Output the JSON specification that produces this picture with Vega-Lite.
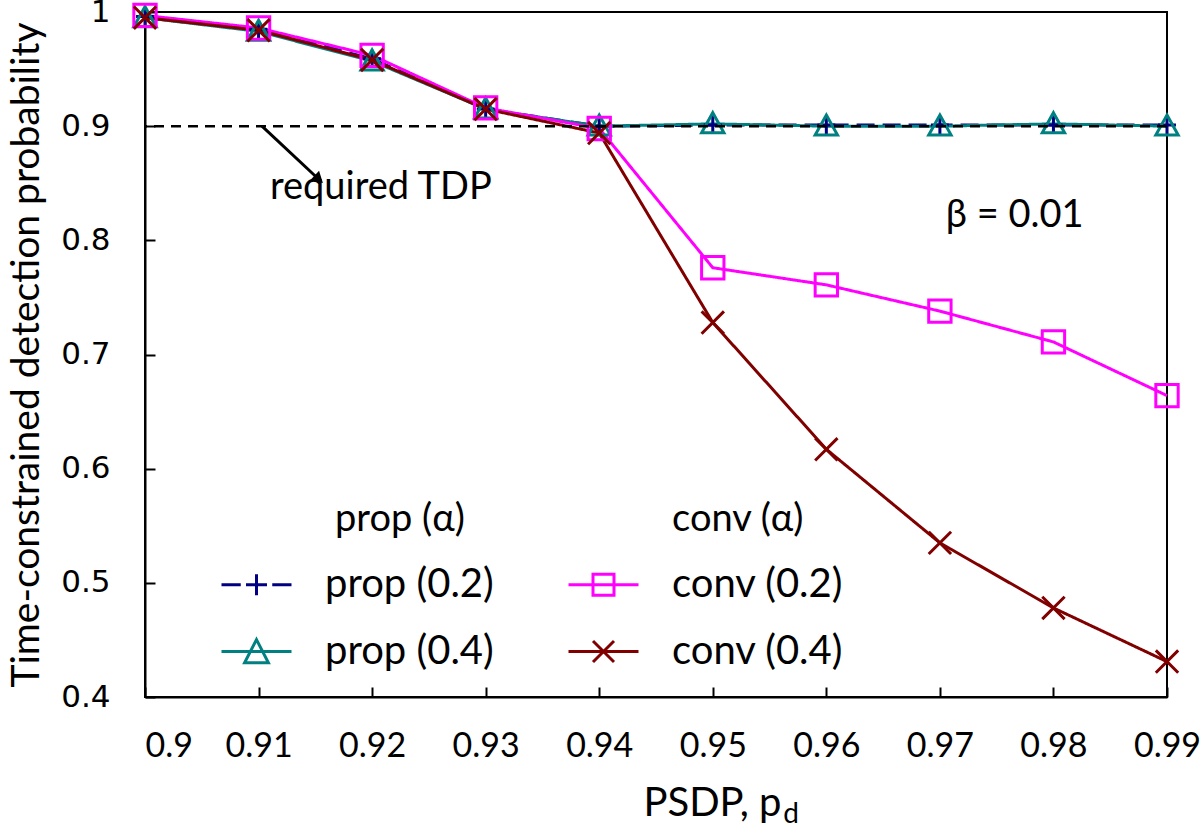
{
  "$schema": "https://vega.github.io/schema/vega-lite/v6.json",
  "autosize": {"type": "none"},
  "width": 1022,
  "height": 685,
  "padding": {"left": 145, "top": 12, "right": 33, "bottom": 143},
  "background": "white",
  "config": {
    "view": {"stroke": "black", "strokeWidth": 2},
    "axis": {"grid": false, "domainColor": "black", "domainWidth": 2, "tickColor": "black", "tickWidth": 2, "tickSize": -10, "labelColor": "black", "titleColor": "black", "titleFontWeight": "normal"}
  },
  "datasets": {
    "curves": [
      {"x": 0.90, "y": 0.996, "series": "prop (0.2)"},
      {"x": 0.91, "y": 0.985, "series": "prop (0.2)"},
      {"x": 0.92, "y": 0.959, "series": "prop (0.2)"},
      {"x": 0.93, "y": 0.915, "series": "prop (0.2)"},
      {"x": 0.94, "y": 0.900, "series": "prop (0.2)"},
      {"x": 0.95, "y": 0.901, "series": "prop (0.2)"},
      {"x": 0.96, "y": 0.901, "series": "prop (0.2)"},
      {"x": 0.97, "y": 0.901, "series": "prop (0.2)"},
      {"x": 0.98, "y": 0.901, "series": "prop (0.2)"},
      {"x": 0.99, "y": 0.901, "series": "prop (0.2)"},
      {"x": 0.90, "y": 0.995, "series": "prop (0.4)"},
      {"x": 0.91, "y": 0.983, "series": "prop (0.4)"},
      {"x": 0.92, "y": 0.957, "series": "prop (0.4)"},
      {"x": 0.93, "y": 0.915, "series": "prop (0.4)"},
      {"x": 0.94, "y": 0.900, "series": "prop (0.4)"},
      {"x": 0.95, "y": 0.902, "series": "prop (0.4)"},
      {"x": 0.96, "y": 0.900, "series": "prop (0.4)"},
      {"x": 0.97, "y": 0.900, "series": "prop (0.4)"},
      {"x": 0.98, "y": 0.902, "series": "prop (0.4)"},
      {"x": 0.99, "y": 0.900, "series": "prop (0.4)"},
      {"x": 0.90, "y": 0.997, "series": "conv (0.2)"},
      {"x": 0.91, "y": 0.986, "series": "conv (0.2)"},
      {"x": 0.92, "y": 0.962, "series": "conv (0.2)"},
      {"x": 0.93, "y": 0.916, "series": "conv (0.2)"},
      {"x": 0.94, "y": 0.898, "series": "conv (0.2)"},
      {"x": 0.95, "y": 0.776, "series": "conv (0.2)"},
      {"x": 0.96, "y": 0.761, "series": "conv (0.2)"},
      {"x": 0.97, "y": 0.738, "series": "conv (0.2)"},
      {"x": 0.98, "y": 0.711, "series": "conv (0.2)"},
      {"x": 0.99, "y": 0.664, "series": "conv (0.2)"},
      {"x": 0.90, "y": 0.995, "series": "conv (0.4)"},
      {"x": 0.91, "y": 0.984, "series": "conv (0.4)"},
      {"x": 0.92, "y": 0.958, "series": "conv (0.4)"},
      {"x": 0.93, "y": 0.915, "series": "conv (0.4)"},
      {"x": 0.94, "y": 0.894, "series": "conv (0.4)"},
      {"x": 0.95, "y": 0.728, "series": "conv (0.4)"},
      {"x": 0.96, "y": 0.617, "series": "conv (0.4)"},
      {"x": 0.97, "y": 0.535, "series": "conv (0.4)"},
      {"x": 0.98, "y": 0.478, "series": "conv (0.4)"},
      {"x": 0.99, "y": 0.431, "series": "conv (0.4)"}
    ],
    "notes": [
      {"label": "required TDP", "px": 0.92077, "py": 0.8457},
      {"label": "β = 0.01", "px": 0.97658, "py": 0.8212},
      {"label": "prop (α)", "px": 0.92245, "py": 0.555},
      {"label": "conv (α)", "px": 0.9522, "py": 0.555}
    ],
    "subscript": [
      {"label": "d", "px": 0.9562, "py": 0.2967}
    ],
    "required": [
      {"level": 0.9}
    ],
    "arrow": [
      {"x1": 0.9103, "y1": 0.9, "x2": 0.9153, "y2": 0.8535}
    ]
  },
  "data": {"name": "curves"},
  "encoding": {
    "x": {"field": "x", "type": "quantitative", "title": "PSDP, p",
      "scale": {"domain": [0.9, 0.99], "nice": false, "zero": false},
      "axis": {"values": [0.9, 0.91, 0.92, 0.93, 0.94, 0.95, 0.96, 0.97, 0.98, 0.99], "format": ".2~f", "labelFont": "Lato", "labelFontSize": 34, "labelPadding": 42, "labelFlush": false,
        "labelAlign": {"condition": {"test": "datum.value < 0.905", "value": "left"}, "value": "center"},
        "title": "PSDP, p", "titleFont": "Lato", "titleFontSize": 40, "titleX": 567, "titleY": 118, "titleBaseline": "alphabetic", "titleAlign": "center"}},
    "y": {"field": "y", "type": "quantitative", "title": "Time-constrained detection probability",
      "scale": {"domain": [0.4, 1], "nice": false, "zero": false},
      "axis": {"values": [0.4, 0.5, 0.6, 0.7, 0.8, 0.9, 1], "format": ".1~f", "labelFont": "DejaVu Sans", "labelFontSize": 31, "labelPadding": 45, "title": "Time-constrained detection probability", "titleFont": "Lato", "titleFontSize": 39, "titlePadding": 14}}
  },
  "layer": [
    {
      "mark": {"type": "line", "strokeWidth": 3},
      "encoding": {
        "color": {"field": "series", "type": "nominal",
          "scale": {"domain": ["prop (0.2)", "prop (0.4)", "conv (0.2)", "conv (0.4)"], "range": ["#000080", "#008080", "#FF00FF", "#800000"]},
          "legend": {"title": null, "orient": "none", "legendX": 75, "legendY": 536, "columns": 2, "columnPadding": 68, "rowPadding": 10, "padding": 0,
            "labelFont": "Lato", "labelFontSize": 40, "labelColor": "black", "labelOffset": 32, "labelLimit": 400,
            "symbolSize": 4900, "symbolStrokeWidth": 3, "symbolFillColor": "transparent",
            "encode": {"symbols": {"update": {
              "shape": {"signal": "datum.value === 'prop (0.2)' ? 'M-1,0H-0.45M-0.3,0H0.3M0,-0.3V0.3M0.45,0H1' : datum.value === 'prop (0.4)' ? 'M-1,0H1M0,-0.34L0.34,0.32H-0.34Z' : datum.value === 'conv (0.2)' ? 'M-1,0H1M-0.3,-0.3H0.3V0.3H-0.3Z' : 'M-1,0H1M-0.3,-0.3L0.3,0.3M-0.3,0.3L0.3,-0.3'"},
              "fill": {"value": "transparent"},
              "strokeWidth": {"value": 3},
              "size": {"value": 4900}
            }}}
          }},
        "strokeDash": {"field": "series", "type": "nominal", "legend": null,
          "scale": {"domain": ["conv (0.2)", "conv (0.4)", "prop (0.2)", "prop (0.4)"], "range": [[1, 0], [1, 0], [18, 8], [1, 0]]}}
      }
    },
    {
      "mark": {"type": "point", "filled": false, "strokeWidth": 3, "size": 500, "opacity": 1},
      "encoding": {
        "color": {"field": "series", "type": "nominal"},
        "shape": {"field": "series", "type": "nominal", "legend": null,
          "scale": {"domain": ["conv (0.2)", "conv (0.4)", "prop (0.2)", "prop (0.4)"], "range": ["M-1,-1H1V1H-1Z", "M-1,-1L1,1M-1,1L1,-1", "M-0.8,0H0.8M0,-0.8V0.8", "M0,-1L1,0.8H-1Z"]}}
      }
    },
    {
      "data": {"name": "required"},
      "mark": {"type": "rule", "color": "black", "strokeWidth": 2.5, "strokeDash": [10, 7]},
      "encoding": {"x": null, "y": {"field": "level", "type": "quantitative", "title": "Time-constrained detection probability"}}
    },
    {
      "data": {"name": "arrow"},
      "mark": {"type": "rule", "color": "black", "strokeWidth": 3},
      "encoding": {
        "x": {"field": "x1", "type": "quantitative", "title": "PSDP, p"},
        "y": {"field": "y1", "type": "quantitative", "title": "Time-constrained detection probability"},
        "x2": {"field": "x2"}, "y2": {"field": "y2"}}
    },
    {
      "data": {"name": "arrow"},
      "mark": {"type": "point", "shape": "triangle-up", "filled": true, "color": "black", "size": 170, "angle": 133, "opacity": 1},
      "encoding": {
        "x": {"field": "x2", "type": "quantitative", "title": "PSDP, p"},
        "y": {"field": "y2", "type": "quantitative", "title": "Time-constrained detection probability"}}
    },
    {
      "data": {"name": "notes"},
      "mark": {"type": "text", "font": "Lato", "fontSize": 38, "color": "black", "align": "center", "baseline": "middle"},
      "encoding": {
        "x": {"field": "px", "type": "quantitative", "title": "PSDP, p"},
        "y": {"field": "py", "type": "quantitative", "title": "Time-constrained detection probability"},
        "text": {"field": "label", "type": "nominal"}}
    },
    {
      "data": {"name": "subscript"},
      "mark": {"type": "text", "font": "Lato", "fontSize": 28, "color": "black", "align": "left", "baseline": "middle", "clip": false},
      "encoding": {
        "x": {"field": "px", "type": "quantitative", "title": "PSDP, p"},
        "y": {"field": "py", "type": "quantitative", "title": "Time-constrained detection probability"},
        "text": {"field": "label", "type": "nominal"}}
    }
  ]
}
